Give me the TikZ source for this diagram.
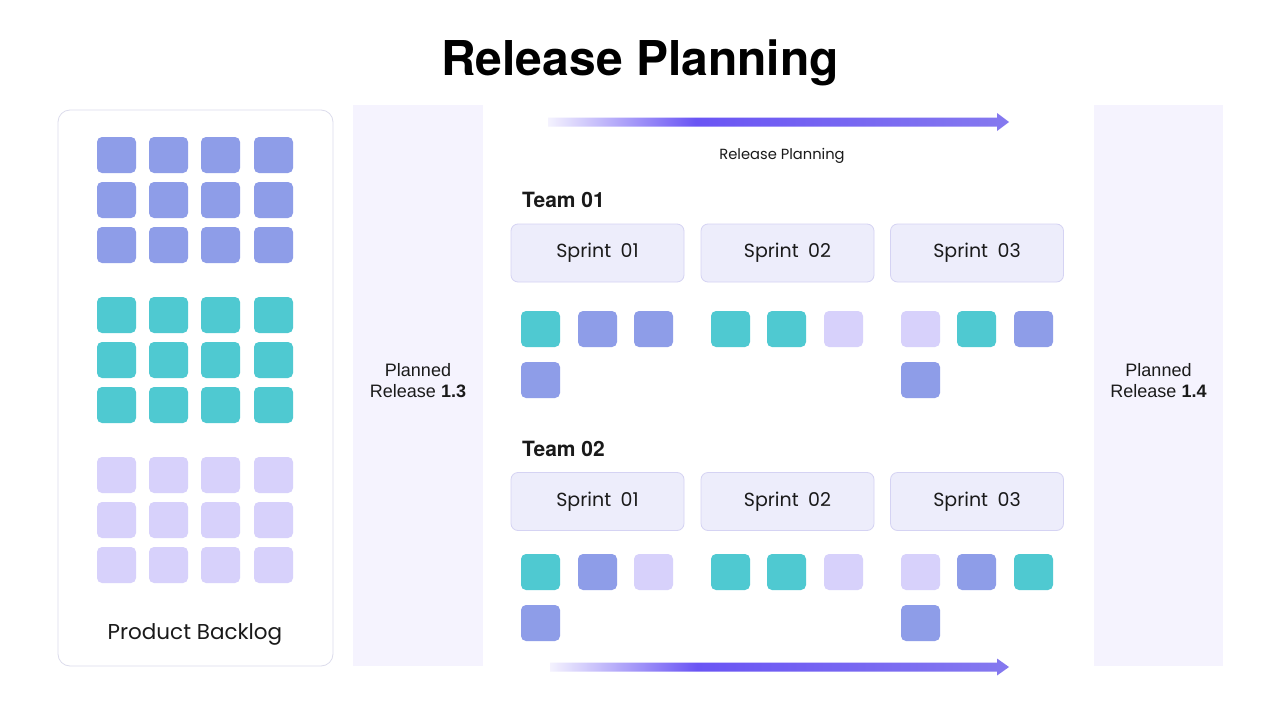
\documentclass[tikz,border=0pt]{standalone}
\usepackage{fontspec}
\usetikzlibrary{calc}
\setmainfont{Poppins}
\newfontfamily\headfont{TeX Gyre Heros}
\newfontfamily\arialfont{Liberation Sans}
\definecolor{sqblue}{HTML}{8E9DE8}
\definecolor{sqteal}{HTML}{4FC9D1}
\definecolor{sqlav}{HTML}{D7D1FB}
\definecolor{panel}{HTML}{F5F3FE}
\definecolor{sprintfill}{HTML}{EDEDFB}
\definecolor{sprintline}{HTML}{D5D3F3}
\definecolor{backline}{HTML}{DCDCEC}
\definecolor{arrowA}{HTML}{6A55F4}
\definecolor{arrowB}{HTML}{8579EF}
\definecolor{arrowS}{HTML}{F4F2FE}
\definecolor{txt}{HTML}{1A1A1A}
% tikz maps 25bp..75bp of a shading onto the path's bounding box
\pgfdeclarehorizontalshading{relgrad}{100bp}{color(0bp)=(arrowS); color(25bp)=(arrowS); color(41bp)=(arrowA); color(75bp)=(arrowB); color(100bp)=(arrowB)}
\tikzset{
  sq/.style={rectangle, rounded corners=5pt, minimum width=39pt, minimum height=36pt, inner sep=0pt, draw=none},
  bl/.style={sq, fill=sqblue},
  te/.style={sq, fill=sqteal},
  lv/.style={sq, fill=sqlav},
  panelbox/.style={rectangle, fill=panel, draw=none, inner sep=0pt},
  sprintbox/.style={rectangle, rounded corners=7pt, fill=sprintfill, draw=sprintline, line width=0.8pt, minimum width=173pt, minimum height=58pt, inner sep=0pt, font=\fontsize{19}{22}\selectfont, text=txt},
  teamlbl/.style={anchor=west, inner sep=0pt, font=\headfont\bfseries\fontsize{21}{24}\selectfont, text=txt},
  rellbl/.style={align=center, inner sep=0pt, font=\arialfont\fontsize{18}{22}\selectfont, text=txt},
}
\begin{document}
\begin{tikzpicture}[x=1pt,y=-1pt]
\useasboundingbox (0,0) rectangle (1280,720);
\fill[white] (0,0) rectangle (1280,720);
% title
\node[inner sep=0pt, font=\headfont\bfseries\fontsize{48}{52}\selectfont, text=black] (title) at (640,63) {Release Planning};
% backlog panel
\node[rectangle, rounded corners=12pt, draw=backline, line width=0.8pt, fill=white, minimum width=275pt, minimum height=556pt, inner sep=0pt] (backlog) at (195.5,388) {};
\foreach \r/\y in {1/137,2/182,3/227}{
  \foreach \c/\x in {1/97,2/149,3/201,4/254}{
    \node[bl] (bb-\r-\c) at (\x+19.5,\y+18) {};
  }}
\foreach \r/\y in {1/297,2/342,3/387}{
  \foreach \c/\x in {1/97,2/149,3/201,4/254}{
    \node[te] (bt-\r-\c) at (\x+19.5,\y+18) {};
  }}
\foreach \r/\y in {1/457,2/502,3/547}{
  \foreach \c/\x in {1/97,2/149,3/201,4/254}{
    \node[lv] (bv-\r-\c) at (\x+19.5,\y+18) {};
  }}
\node[inner sep=0pt, font=\fontsize{21.5}{24}\selectfont, text=txt] (backlbl) at (195,634) {Product Backlog};
% release panels
\node[panelbox, minimum width=130pt, minimum height=561pt] (rel13) at (418,385.5) {};
\node[rellbl] (rel13lbl) at (418,381) {Planned\\[-1pt]Release \textbf{1.3}};
\node[panelbox, minimum width=129pt, minimum height=561pt] (rel14) at (1158.5,385.5) {};
\node[rellbl] (rel14lbl) at (1158.5,381) {Planned\\[-1pt]Release \textbf{1.4}};
% top arrow
\coordinate (ta) at (548,122);
\coordinate (tb) at (1009,122);
\shade[shading=relgrad] ($(ta)+(0,-4.5)$) -- ($(tb)+(-12,-4.5)$) -- ($(tb)+(-12,-9)$) -- (tb) -- ($(tb)+(-12,9)$) -- ($(tb)+(-12,4.5)$) -- ($(ta)+(0,4.5)$) -- cycle;
\node[inner sep=0pt, font=\fontsize{14.7}{17}\selectfont, text=txt] (rpl) at (782,156) {Release Planning};
% bottom arrow
\coordinate (ba) at (550,667);
\coordinate (bb) at (1009,667);
\shade[shading=relgrad] ($(ba)+(0,-4.5)$) -- ($(bb)+(-12,-4.5)$) -- ($(bb)+(-12,-8.5)$) -- (bb) -- ($(bb)+(-12,8.5)$) -- ($(bb)+(-12,4.5)$) -- ($(ba)+(0,4.5)$) -- cycle;
% team 01
\node[teamlbl] (team1) at (522,200) {Team 01};
\node[sprintbox] (t1s1) at (597.5,253) {Sprint\enspace 01};
\node[sprintbox] (t1s2) at (787.5,253) {Sprint\enspace 02};
\node[sprintbox] (t1s3) at (977,253) {Sprint\enspace 03};
\node[te] (t1a1) at (540.5,329) {};
\node[bl] (t1a2) at (597.5,329) {};
\node[bl] (t1a3) at (653.5,329) {};
\node[bl] (t1a4) at (540.5,380) {};
\node[te] (t1b1) at (730.5,329) {};
\node[te] (t1b2) at (786.5,329) {};
\node[lv] (t1b3) at (843.5,329) {};
\node[lv] (t1c1) at (920.5,329) {};
\node[te] (t1c2) at (976.5,329) {};
\node[bl] (t1c3) at (1033.5,329) {};
\node[bl] (t1c4) at (920.5,380) {};
% team 02
\node[teamlbl] (team2) at (522,449) {Team 02};
\node[sprintbox] (t2s1) at (597.5,501.5) {Sprint\enspace 01};
\node[sprintbox] (t2s2) at (787.5,501.5) {Sprint\enspace 02};
\node[sprintbox] (t2s3) at (977,501.5) {Sprint\enspace 03};
\node[te] (t2a1) at (540.5,572) {};
\node[bl] (t2a2) at (597.5,572) {};
\node[lv] (t2a3) at (653.5,572) {};
\node[bl] (t2a4) at (540.5,623) {};
\node[te] (t2b1) at (730.5,572) {};
\node[te] (t2b2) at (786.5,572) {};
\node[lv] (t2b3) at (843.5,572) {};
\node[lv] (t2c1) at (920.5,572) {};
\node[bl] (t2c2) at (976.5,572) {};
\node[te] (t2c3) at (1033.5,572) {};
\node[bl] (t2c4) at (920.5,623) {};
\end{tikzpicture}
\end{document}
